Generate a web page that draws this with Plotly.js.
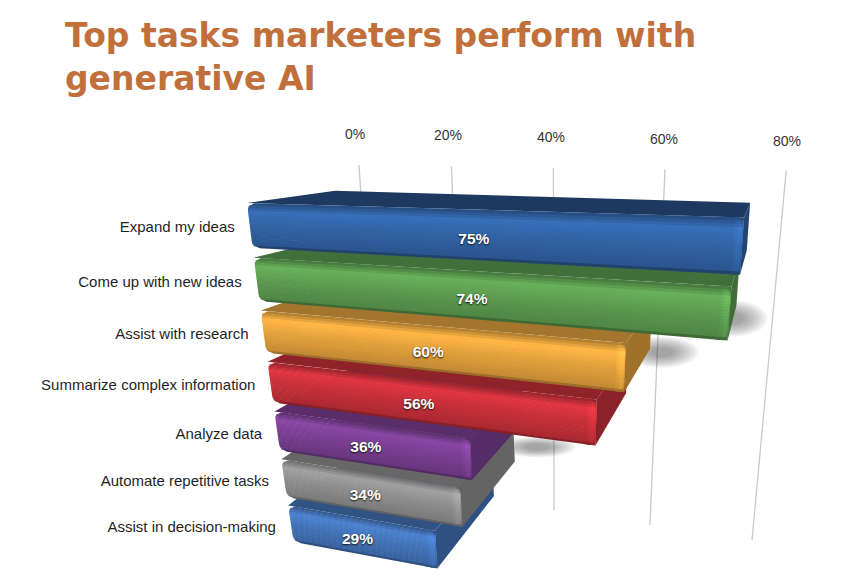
<!DOCTYPE html>
<html><head><meta charset="utf-8">
<script src="https://cdn.plot.ly/plotly-3.0.1.min.js"></script>
<style>html,body{margin:0;padding:0;background:#fff}</style></head>
<body><div id="chart" style="width:846px;height:586px"></div>
<script>
// ---- data ----
const categories = ["Expand my ideas","Come up with new ideas","Assist with research","Summarize complex information","Analyze data","Automate repetitive tasks","Assist in decision-making"];
const values = [75,74,60,56,36,34,29];
const axisTicks = [0,20,40,60,80];
const baseColors = ["#3263a5","#5c9c50","#e4a23d","#c8303a","#7a3f92","#8f8f8f","#4273b8"];

// ---- perspective projection of the 3D chart onto the page ----
const VP=[781,129], DEPTH=.165, BAR=.82;
const x0=r=>247+6.85*r, y0=r=>203+55.5*r-.85*r*r, sl=r=>.029+.033*r-.0015*r*r;
const barL=(v,r)=>(5.4*v+.0155*v*v)*(1-.024*(r-.41));
const P=(L,r)=>[x0(r)+L,y0(r)+sl(r)*L];
const back=p=>[p[0]+DEPTH*(VP[0]-p[0]),p[1]+DEPTH*(VP[1]-p[1])];
const shade=(hex,m)=>{const n=parseInt(hex.slice(1),16);
  const f=c=>Math.max(0,Math.min(255,Math.round(c*m)));
  return `rgb(${f(n>>16)},${f((n>>8)&255)},${f(n&255)})`;};
const tone=s=>{const st=[[0,.74],[.2,1.13],[.5,1.0],[.93,.86],[.97,.7],[1,.42]];
  for(let i=1;i<st.length;i++) if(s<=st[i][0]){const a=st[i-1],b=st[i];
    return a[1]+(b[1]-a[1])*(s-a[0])/(b[0]-a[0]);} return .42;};
const traces=[];
const poly=(pts,color)=>traces.push({type:'scatter',mode:'lines',x:[...pts.map(p=>p[0]),pts[0][0]],y:[...pts.map(p=>p[1]),pts[0][1]],
  fill:'toself',fillcolor:color,line:{width:0},hoverinfo:'skip',showlegend:false});

// gridlines on the back wall
axisTicks.forEach(v=>{
  traces.push({type:'scatter',mode:'lines',x:[359+4.38*v+.012*v*v,380+4.05*v+.0075*v*v],y:[165+.07*v,480+.75*v],
    line:{color:'#c9c9c9',width:1.3},hoverinfo:'skip',showlegend:false});
});
traces.push({type:'scatter',mode:'text',x:axisTicks.map(v=>355+4.4*v+.0125*v*v),y:axisTicks.map(v=>135+.09*v),
  text:axisTicks.map(v=>v+'%'),textposition:'middle center',textfont:{family:'Liberation Sans',size:14,color:'#333'},hoverinfo:'skip',showlegend:false});

// soft cast shadows
[[1,5,-22,27,14],[2,38,-40,28,12],[5,75,-80,30,8]].forEach(([i,dx,dy,rx,ry])=>{
  const c=P(barL(values[i],i+BAR),i+BAR);
  [1.3,1.2,1.1,1,.9,.8,.7,.6,.5,.4].forEach(k=>{
    const pts=[];for(let a=0;a<360;a+=15){pts.push([c[0]+dx+k*rx*Math.cos(a*Math.PI/180),c[1]+dy+k*ry*Math.sin(a*Math.PI/180)]);}
    poly(pts,'rgba(60,60,60,0.055)');
  });
});

// bars, nearest the floor first
for(let i=values.length-1;i>=0;i--){
  const v=values[i], col=baseColors[i], rT=i, rB=i+BAR;
  const end=(r,d=0)=>P(barL(v,r)+d,r);
  const FTR=end(rT),FBR=end(rB),FTL=P(0,rT);
  poly([FTR,back(FTR),back(FBR),FBR],shade(col,.7));
  poly([FTL,back(FTL),back(FTR),FTR],shade(col,i===0?.58:.72));
  poly([end(rT,-12),FTR,FBR,end(rB,-12)],shade(col,.7));
  const N=18,R=7,H=y0(rB)-y0(rT);
  const inset=s=>{const yo=Math.min(s,1-s)*H; return yo<R? R-Math.sqrt(Math.max(0,R*R-(R-yo)*(R-yo))):0;};
  for(let k=0;k<N;k++){
    const s1=k/N,s2=(k+1)/N,r1=rT+BAR*s1,r2=rT+BAR*s2+(k<N-1?.012:0),m=tone((s1+s2)/2);
    poly([P(inset(s1),r1),end(r1,-inset(s1)*.6),end(r2,-inset(s2)*.6),P(inset(s2),r2)],shade(col,m));
    if(m>.66){
      const c=Math.max(inset(s1),inset(s2))*.6;
      poly([end(r1,-9),end(r1,-6),end(r2,-6),end(r2,-9)],shade(col,m*1.05));
      poly([end(r1,-6),end(r1,-1-c),end(r2,-1-c),end(r2,-6)],shade(col,m*1.1));
    }
  }
}

// category labels
traces.push({type:'scatter',mode:'text',
  x:categories.map((c,i)=>x0(i+.41)-15),y:categories.map((c,i)=>y0(i+.41)+3+.2*i),
  text:categories,textposition:'middle left',textfont:{family:'Liberation Sans',size:15,color:'#1f1f1f'},hoverinfo:'skip',showlegend:false});
// value labels
traces.push({type:'scatter',mode:'text',
  x:values.map((v,i)=>P(barL(v,i+.5)*.455,i+.5)[0]),y:values.map((v,i)=>P(barL(v,i+.5)*.455,i+.5)[1]),
  text:values.map(v=>v+'%'),textposition:'middle center',
  textfont:{family:'Liberation Sans',size:15.5,weight:700,color:'#fff',shadow:'0 1px 2px #111'},hoverinfo:'skip',showlegend:false});

const layout={width:846,height:586,margin:{l:0,r:0,t:0,b:0},paper_bgcolor:'#fff',plot_bgcolor:'#fff',showlegend:false,
  title:{text:'Top tasks marketers perform with<br>generative AI',x:65/846,xref:'paper',xanchor:'left',y:1-47/586,yref:'paper',yanchor:'top',automargin:false,
    font:{family:'DejaVu Sans',size:33,weight:700,color:'#c1703c'}},
  xaxis:{range:[0,846],visible:false,fixedrange:true},yaxis:{range:[586,0],visible:false,fixedrange:true}};
Plotly.newPlot('chart',traces,layout,{displayModeBar:false,staticPlot:true});
</script></body></html>
